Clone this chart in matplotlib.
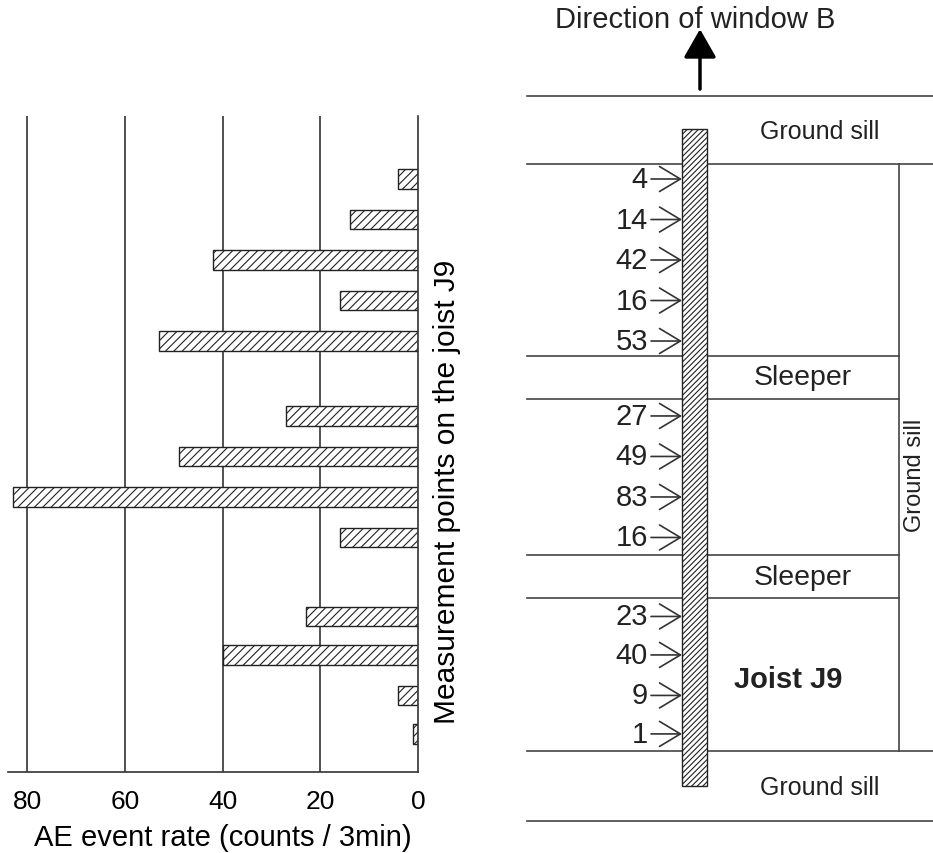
import numpy as np
import matplotlib
matplotlib.use("Agg")
import matplotlib.pyplot as plt
from matplotlib.patches import Rectangle

plt.rcParams['font.family'] = ['Liberation Sans', 'DejaVu Sans']
plt.rcParams['hatch.linewidth'] = 0.8

# 1) Data
# position of each measurement point along the joist (top = 0)
positions = [0, 10, 20, 30, 40, 58.5, 68.5, 78.5, 88.5, 108, 117.5, 127.5, 137]
ae_rate = [4, 14, 42, 16, 53, 27, 49, 83, 16, 23, 40, 4, 1]
point_labels = ['4', '14', '42', '16', '53', '27', '49', '83', '16', '23', '40', '9', '1']
xticks = [80, 60, 40, 20, 0]

# layout of the joist sketch (same units as positions)
sleepers = [(43.7, 54.3), (92.8, 103.5)]
sill_top = (-20.5, -3.7)
sill_bottom = (141.2, 158.5)
joist_span = (-12.3, 149.9)

W, H = 933, 854
fig = plt.figure(figsize=(W / 100, H / 100), dpi=100)

# 2) Left: bar chart with reversed x axis
ax = fig.add_axes([7.7 / W, 1 - 773 / H, (418 - 7.7) / W, (773 - 117) / H])
ax.barh(positions, ae_rate, height=4.9, color='white', edgecolor='#222',
        hatch='////', linewidth=1.0)
ax.set_xlim(84, 0)
ax.set_ylim(146.4, -15.56)
for v in xticks[:-1]:
    ax.axvline(v, color='#333', lw=1.2, zorder=0)
ax.set_xticks(xticks)
ax.set_xticklabels([str(v) for v in xticks], fontsize=19)
ax.set_yticks([])
ax.tick_params(axis='x', length=0, pad=12)
ax.spines['top'].set_visible(False)
ax.spines['left'].set_visible(False)
ax.spines['right'].set_color('#333')
ax.spines['bottom'].set_color('#333')
ax.spines['right'].set_linewidth(1.2)
ax.spines['bottom'].set_linewidth(1.2)
ax.set_xlabel('AE event rate (counts / 3min)', fontsize=21)
ax.xaxis.set_label_coords(0.525, -0.077)
fig.text(447 / W, 1 - 492 / H, 'Measurement points on the joist J9',
         rotation=90, ha='center', va='center', fontsize=21.5)

# 3) Right: sketch of joist J9
ax2 = fig.add_axes([520 / W, 0, 413 / W, 1])
ax2.set_xlim(520, 933)
ax2.set_ylim(166.4, -44.44)
ax2.axis('off')

lc = '#444'
x_left, x_right, x_sill = 527, 933, 899
for y in list(sill_top) + list(sill_bottom):
    ax2.plot([x_left, x_right], [y, y], color=lc, lw=1.2)
for top, bot in sleepers:
    for y in (top, bot):
        ax2.plot([x_left, x_sill], [y, y], color=lc, lw=1.2)
ax2.plot([x_sill, x_sill], [sill_top[1], sill_bottom[0]], color=lc, lw=1.2)

# joist
ax2.add_patch(Rectangle((682, joist_span[0]), 25, joist_span[1] - joist_span[0],
                        facecolor='white', edgecolor='#222', hatch='//////',
                        lw=1.0, zorder=3))

# measurement point arrows and values
for p, lab in zip(positions, point_labels):
    ax2.annotate('', xy=(682, p), xytext=(651, p),
                 arrowprops=dict(arrowstyle='->,head_length=0.5,head_width=0.3',
                                 lw=1.2, color='#333', shrinkA=0, shrinkB=0,
                                 mutation_scale=30))
    ax2.text(648, p, lab, ha='right', va='center', fontsize=21, color='#222')

# direction arrow
ax2.annotate('', xy=(700, -37.0), xytext=(700, -22.2),
             arrowprops=dict(arrowstyle='-|>,head_length=0.7,head_width=0.4',
                             lw=2.5, color='black', shrinkA=0, shrinkB=0,
                             mutation_scale=25))
ax2.text(695, -39.5, 'Direction of window B', ha='center', va='center',
         fontsize=21, color='#222')

ax2.text(820, -11.9, 'Ground sill', ha='center', va='center', fontsize=18, color='#222')
ax2.text(820, 150, 'Ground sill', ha='center', va='center', fontsize=18, color='#222')
for top, bot in sleepers:
    for_y = (top + bot) / 2
    ax2.text(803, for_y, 'Sleeper', ha='center', va='center',
             fontsize=20.5, color='#222')
ax2.text(788, 123.5, 'Joist J9', ha='center', va='center', fontsize=21,
         fontweight='bold', color='#222')
ax2.text(915, 72.8, 'Ground sill', ha='center', va='center', rotation=90,
         fontsize=17, color='#222')

fig.savefig('out.png', dpi=100)
